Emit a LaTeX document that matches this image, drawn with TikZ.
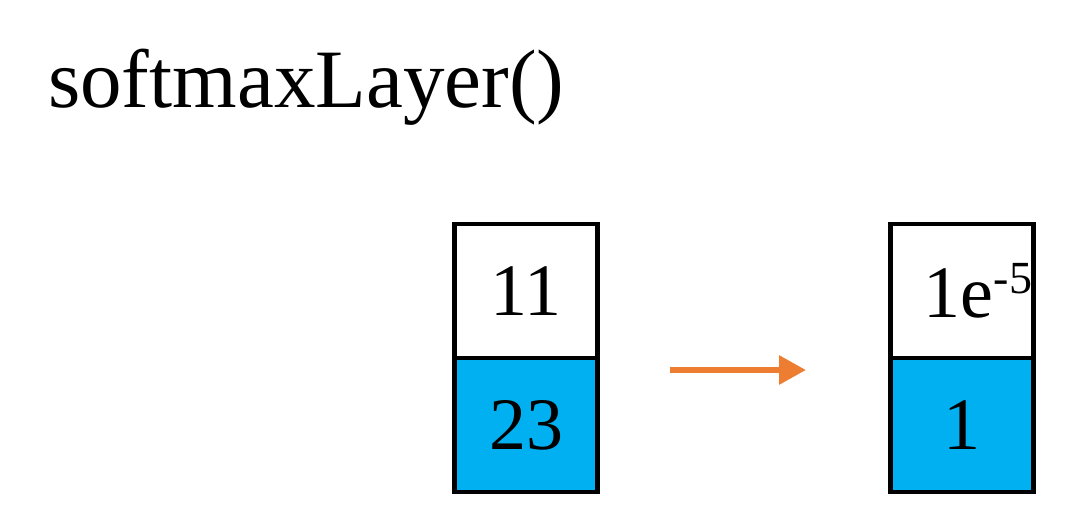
\documentclass[tikz,border=0pt]{standalone}
\usepackage{fontspec}
\setmainfont{Liberation Serif}
\usetikzlibrary{positioning,arrows.meta}
\definecolor{cellblue}{HTML}{00B0F0}
\definecolor{arroworange}{HTML}{ED7D31}
\newcommand{\supexp}[1]{\raisebox{24pt}{\fontsize{46}{50}\selectfont #1}}

\begin{document}
\begin{tikzpicture}[x=1pt, y=-1pt,
  cell/.style={draw=black, line width=4.5pt, minimum width=143pt, minimum height=134pt,
               inner sep=0pt, outer sep=0pt, font=\fontsize{74}{80}\selectfont},
  hotcell/.style={cell, fill=cellblue}]
\useasboundingbox (0,0) rectangle (1079,514);

\node[anchor=base west, inner sep=0pt, font=\fontsize{83}{90}\selectfont] (title) at (48,107) {softmaxLayer()};

% input vector
\node[cell]                      (in1)  at (526,291) {11};
\node[hotcell, below=0pt of in1] (in2)  {23};

% output vector
\node[cell, text width=140pt, align=right] (out1) at (962,291) {1e\supexp{-5}};
\node[hotcell, below=0pt of out1] (out2) {1};

\coordinate (arrtail) at (670,370);
\coordinate (arrtip)  at (806,370);
\draw[-{Triangle[length=27pt,width=28pt]}, draw=arroworange, fill=arroworange, line width=6pt] (arrtail) -- (arrtip);
\end{tikzpicture}
\end{document}
